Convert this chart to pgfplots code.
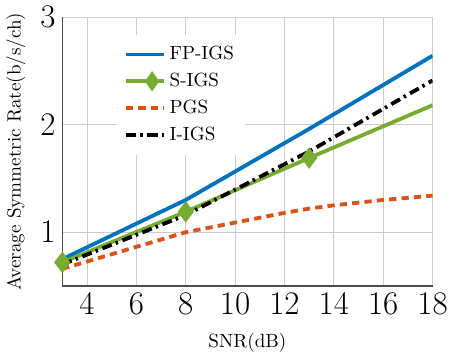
\documentclass[border=0pt]{standalone}
\usepackage{pgfplots}
\usetikzlibrary{shapes.geometric}
\pgfplotsset{compat=1.18}
\definecolor{mblue}{RGB}{0,114,189}
\definecolor{mgreen}{RGB}{119,172,48}
\definecolor{morange}{RGB}{217,83,25}
\begin{document}
\begin{tikzpicture}
\begin{axis}[
  scale only axis,
  width=194pt, height=141pt,
  xmin=3, xmax=18, ymin=0.5, ymax=3,
  xtick={4,6,...,18}, ytick={1,2,3},
  axis x line*=bottom, axis y line*=left,
  axis line style={black!70, line width=0.6pt},
  major tick length=0pt,
  grid=major,
  major grid style={black!20, line width=0.5pt},
  tick label style={font=\LARGE},
  xlabel={SNR(dB)}, ylabel={Average Symmetric Rate(b/s/ch)},
  xlabel style={yshift=-3pt},
  ylabel style={yshift=1pt},
  legend style={at={(0.145,0.935)}, anchor=north west, draw=none, fill=white,
    font=\normalsize, row sep=1.5pt, inner sep=4pt},
  legend cell align=left,
  legend image code/.code={\draw[#1] (0cm,0cm) -- (0.7cm,0cm);},
]
\addplot[mblue, line width=2pt] coordinates {(3,0.75) (8,1.30) (13,1.96) (18,2.64)};
\addlegendentry{FP-IGS}
\addplot[mgreen, line width=2pt, mark=diamond*, mark size=4pt, mark indices={1,2,3},
  legend image code/.code={\draw[mgreen, line width=2pt] (0cm,0cm) -- (0.7cm,0cm);
   \node[draw=mgreen, fill=mgreen, diamond, inner sep=0pt, line width=0.5pt, minimum width=7pt, minimum height=10pt] at (0.35cm,0) {};}]
  coordinates {(3,0.72) (8,1.19) (13,1.69) (18,2.18)};
\addlegendentry{S-IGS}
\addplot[morange, line width=2pt, dash pattern=on 3.8pt off 2.7pt] coordinates {(3,0.66) (8,1.00) (10,1.09) (12,1.18) (13,1.22) (14,1.25) (16,1.30) (18,1.34)};
\addlegendentry{PGS}
\addplot[black, line width=2pt, dash pattern=on 5.3pt off 2.2pt on 1.3pt off 2.5pt] coordinates {(3,0.70) (8,1.16) (13,1.75) (18,2.41)};
\addlegendentry{I-IGS}
\end{axis}
\end{tikzpicture}
\end{document}
